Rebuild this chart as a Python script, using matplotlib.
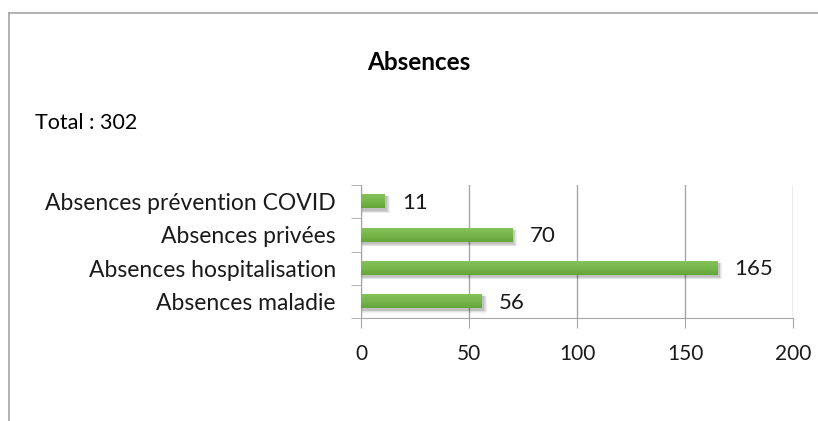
import numpy as np
import matplotlib
matplotlib.use('Agg')
import matplotlib.pyplot as plt
from matplotlib.lines import Line2D
from matplotlib.colors import LinearSegmentedColormap

categories = ['Absences maladie', 'Absences hospitalisation', 'Absences privées',
              'Absences prévention COVID']
values = [56, 165, 70, 11]
xticks = [0, 50, 100, 150, 200]
title = 'Absences'
total_text = 'Total : 302'

plt.rcParams['font.family'] = ['Lato', 'DejaVu Sans']
grey = '#a6a6a6'
bar_cmap = LinearSegmentedColormap.from_list('bar', ['#84c25a', '#76b64a', '#64a63a'])

fig = plt.figure(figsize=(8.18, 4.21), dpi=100)
ax = fig.add_axes([361/818, 1-318/421, (793-361)/818, (318-185)/421])

y = np.arange(len(categories))
h = 0.40
grad = np.linspace(0, 1, 64).reshape(-1, 1)
for yi, v in zip(y, values):
    # soft shadow
    for k, a in zip(range(4), [0.06, 0.06, 0.07, 0.08]):
        d = 0.02 * (3 - k)
        ax.fill_between([0.5, v + 1.0 + d * 20], yi - h/2 - 0.08 - d, yi + h/2 - 0.04,
                        color='black', alpha=a, linewidth=0, zorder=2)
    ax.imshow(grad, cmap=bar_cmap, aspect='auto', zorder=3,
              extent=[0, v, yi - h/2, yi + h/2], origin='upper')
    ax.text(v + 8, yi - 0.04, str(v), va='center', ha='left', fontsize=16, color='#1a1a1a')

ax.set_xlim(0, 200)
ax.set_ylim(-0.5, len(categories) - 0.5)
ax.set_xticks(xticks)
ax.set_xticklabels([str(t) for t in xticks], fontsize=15, color='#1a1a1a')
ax.set_yticks(y)
ax.set_yticklabels(categories, fontsize=16.5, color='#1a1a1a')
ax.tick_params(axis='y', length=0, pad=18)
ax.tick_params(axis='x', length=7, color=grey, pad=12)
ax.set_yticks(np.arange(-0.5, len(categories)), minor=True)
ax.tick_params(axis='y', which='minor', length=7, color=grey)
ax.grid(axis='x', color=grey, linewidth=1, zorder=0)
for s in ['top', 'right']:
    ax.spines[s].set_visible(False)
for s in ['left', 'bottom']:
    ax.spines[s].set_color(grey)

fig.text(419/818, 1-63/421, title, ha='center', va='center', fontsize=17.5, fontweight='bold')
fig.text(35/818, 1-123/421, total_text, ha='left', va='center', fontsize=15.5)

# chart frame (only top and left visible in the crop)
fig.add_artist(Line2D([9/818, 1], [1-13/421, 1-13/421], color=grey, linewidth=1.2))
fig.add_artist(Line2D([9/818, 9/818], [0, 1-13/421], color=grey, linewidth=1.2))

fig.savefig('out.png', dpi=100)
